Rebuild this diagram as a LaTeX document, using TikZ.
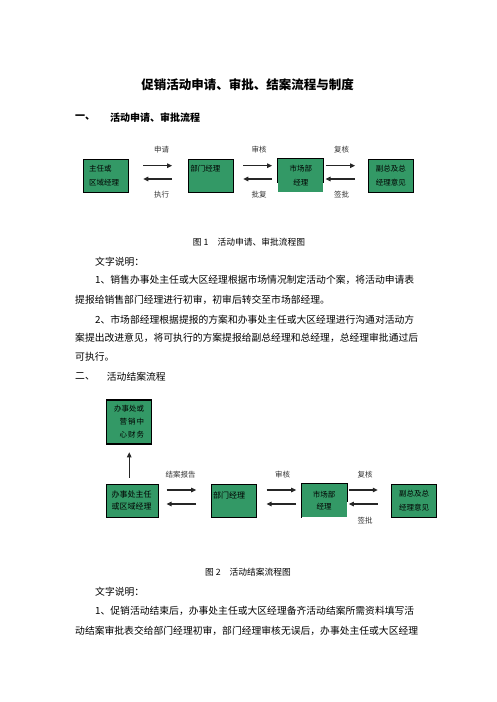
\documentclass[tikz,border=0pt]{standalone}
\usepackage{fontspec}
\setmainfont{Noto Sans CJK SC}
\usetikzlibrary{arrows.meta}
\XeTeXlinebreaklocale "zh"
\XeTeXlinebreakskip=0pt plus 3pt
\definecolor{boxgreen}{RGB}{51,153,102}
\newcommand{\spreadline}[2]{\makebox[#1][s]{#2}}

\tikzset{
  box/.style={fill=boxgreen, draw=black, line width=1.1pt, inner sep=0pt,
    minimum width=45pt, minimum height=33pt, font=\fontsize{7.5}{14}\selectfont},
  flow/.style={-{Triangle[length=5pt,width=4.5pt]}, line width=1.1pt, black!85},
  lbl/.style={inner sep=0pt, text=black!80, font=\fontsize{7.5}{9}\selectfont},
  para/.style={anchor=west, inner sep=0pt, font=\fontsize{9.8}{12}\selectfont},
  head/.style={anchor=west, inner sep=0pt, font=\bfseries\fontsize{10}{12}\selectfont},
  figcap/.style={inner sep=0pt, font=\fontsize{8.75}{10}\selectfont}
}

\begin{document}
\begin{tikzpicture}[x=1pt, y=-1pt]
    \useasboundingbox (0,0) rectangle (496,702);

    % Title and first heading
    \node[inner sep=0pt, font=\bfseries\fontsize{12.5}{14}\selectfont] (title) at (247.5,85) {促销活动申请、审批、结案流程与制度};
    \node[head] (sec1no) at (75,118) {一、};
    \node[head] (sec1) at (110,118) {活动申请、审批流程};

    % Figure 1: application and approval
    \node[box, text width=33.6pt, align=left] (zr1) at (105.8,175.8) {主任或\\区域经理};
    \node[box, text width=41pt, align=left] (bm1) at (210.8,175.8) {部门经理\\\mbox{}};
    \node[box, draw=none, align=center] (sc1) at (300.8,175.8) {市场部\\经理};
    \draw[line width=1.1pt] ([yshift=-24pt]sc1.north west) -- (sc1.north west) -- (sc1.north east) -- ([yshift=-24pt]sc1.north east);
    \node[box, align=center] (fz1) at (390.8,175.8) {副总及总\\经理意见};

    \draw[flow, shorten <=14.4pt, shorten >=15.6pt] ([yshift=10.1pt]zr1.east) -- ([yshift=10.1pt]bm1.west);
    \draw[flow, shorten <=15.6pt, shorten >=14.4pt] ([yshift=-3.2pt]bm1.west) -- ([yshift=-3.2pt]zr1.east);
    \draw[flow, shorten <=9.4pt, shorten >=5.6pt] ([yshift=10.1pt]bm1.east) -- ([yshift=10.1pt]sc1.west);
    \draw[flow, shorten <=5.6pt, shorten >=9.4pt] ([yshift=-3.2pt]sc1.west) -- ([yshift=-3.2pt]bm1.east);
    \draw[flow, shorten <=1.7pt, shorten >=12.6pt] ([yshift=10.1pt]sc1.east) -- ([yshift=10.1pt]fz1.west);
    \draw[flow, shorten <=12.6pt, shorten >=1.7pt] ([yshift=-3.2pt]fz1.west) -- ([yshift=-3.2pt]sc1.east);

    \node[lbl] (sq) at (161.7,149.3) {申请};
    \node[lbl] (sh1) at (259,149.3) {审核};
    \node[lbl] (fh1) at (341.7,149.3) {复核};
    \node[lbl] (zx) at (161.7,195) {执行};
    \node[lbl] (pf) at (259,195) {批复};
    \node[lbl] (qp1) at (341.7,195) {签批};

    \node[figcap] (cap1) at (249,241.7) {图 1\hspace{9pt}活动申请、审批流程图};

    % Text of part one
    \node[para] (sm1) at (95,261.7) {文字说明：};
    \node[para] (p1a) at (95,280) {\spreadline{325pt}{1、销售办事处主任或大区经理根据市场情况制定活动个案，将活动申请表}};
    \node[para] (p1b) at (75,300) {提报给销售部门经理进行初审，初审后转交至市场部经理。};
    \node[para] (p2a) at (95,319.3) {\spreadline{325pt}{2、市场部经理根据提报的方案和办事处主任或大区经理进行沟通对活动方}};
    \node[para] (p2b) at (75,338) {\spreadline{345pt}{案提出改进意见，将可执行的方案提报给副总经理和总经理，总经理审批通过后}};
    \node[para] (p2c) at (75,357) {可执行。};
    \node[para] (sec2no) at (75,376.7) {二、};
    \node[para] (sec2) at (106.7,376.7) {活动结案流程};

    % Figure 2: closing the activity
    \node[box, minimum height=44pt, text width=30pt, align=right, font=\fontsize{7.5}{13}\selectfont] (cw) at (129.2,422) {办事处或\\营销中\\心财务};
    \node[box, minimum width=51.6pt, text width=42pt, align=left, font=\fontsize{8}{12.3}\selectfont] (zr2) at (132.5,500.8) {办事处主任\\或区域经理};
    \node[box, text width=42pt, align=left, font=\fontsize{8}{12.3}\selectfont] (bm2) at (234.2,500.8) {部门经理\\\mbox{}};
    \node[box, draw=none, align=center, font=\fontsize{7.5}{12.3}\selectfont] (sc2) at (324.2,500.8) {市场部\\经理};
    \draw[line width=1.1pt] (sc2.south west) -- (sc2.north west) -- (sc2.north east) -- ([yshift=-18pt]sc2.north east);
    \node[box, align=center] (fz2) at (414.2,500.8) {副总及总\\经理意见};

    \draw[flow, shorten <=6pt, shorten >=7.7pt] (cw.south |- zr2.north) -- (cw.south);
    \draw[flow, shorten <=7.7pt, shorten >=15pt] ([yshift=10.8pt]zr2.east) -- ([yshift=10.8pt]bm2.west);
    \draw[flow, shorten <=15pt, shorten >=7.7pt] ([yshift=-3.2pt]bm2.west) -- ([yshift=-3.2pt]zr2.east);
    \draw[flow, shorten <=9.3pt, shorten >=5pt] ([yshift=10.8pt]bm2.east) -- ([yshift=10.8pt]sc2.west);
    \draw[flow, shorten <=5pt, shorten >=9.3pt] ([yshift=-3.2pt]sc2.west) -- ([yshift=-3.2pt]bm2.east);
    \draw[flow, shorten <=1.6pt, shorten >=13.4pt] ([yshift=10.8pt]sc2.east) -- ([yshift=10.8pt]fz2.west);
    \draw[flow, shorten <=13.4pt, shorten >=1.6pt] ([yshift=-3.2pt]fz2.west) -- ([yshift=-3.2pt]sc2.east);

    \node[lbl] (ja) at (180.7,475) {结案报告};
    \node[lbl] (sh2) at (282.7,475) {审核};
    \node[lbl] (fh2) at (365,475) {复核};
    \node[lbl] (qp2) at (365,521) {签批};

    \node[figcap] (cap2) at (248,572) {图 2\hspace{9pt}活动结案流程图};

    % Text of part two
    \node[para] (sm2) at (95,592) {文字说明：};
    \node[para] (p3a) at (95,611) {\spreadline{325pt}{1、促销活动结束后，办事处主任或大区经理备齐活动结案所需资料填写活}};
    \node[para] (p3b) at (75,631) {\spreadline{345pt}{动结案审批表交给部门经理初审，部门经理审核无误后，办事处主任或大区经理}};
\end{tikzpicture}
\end{document}
